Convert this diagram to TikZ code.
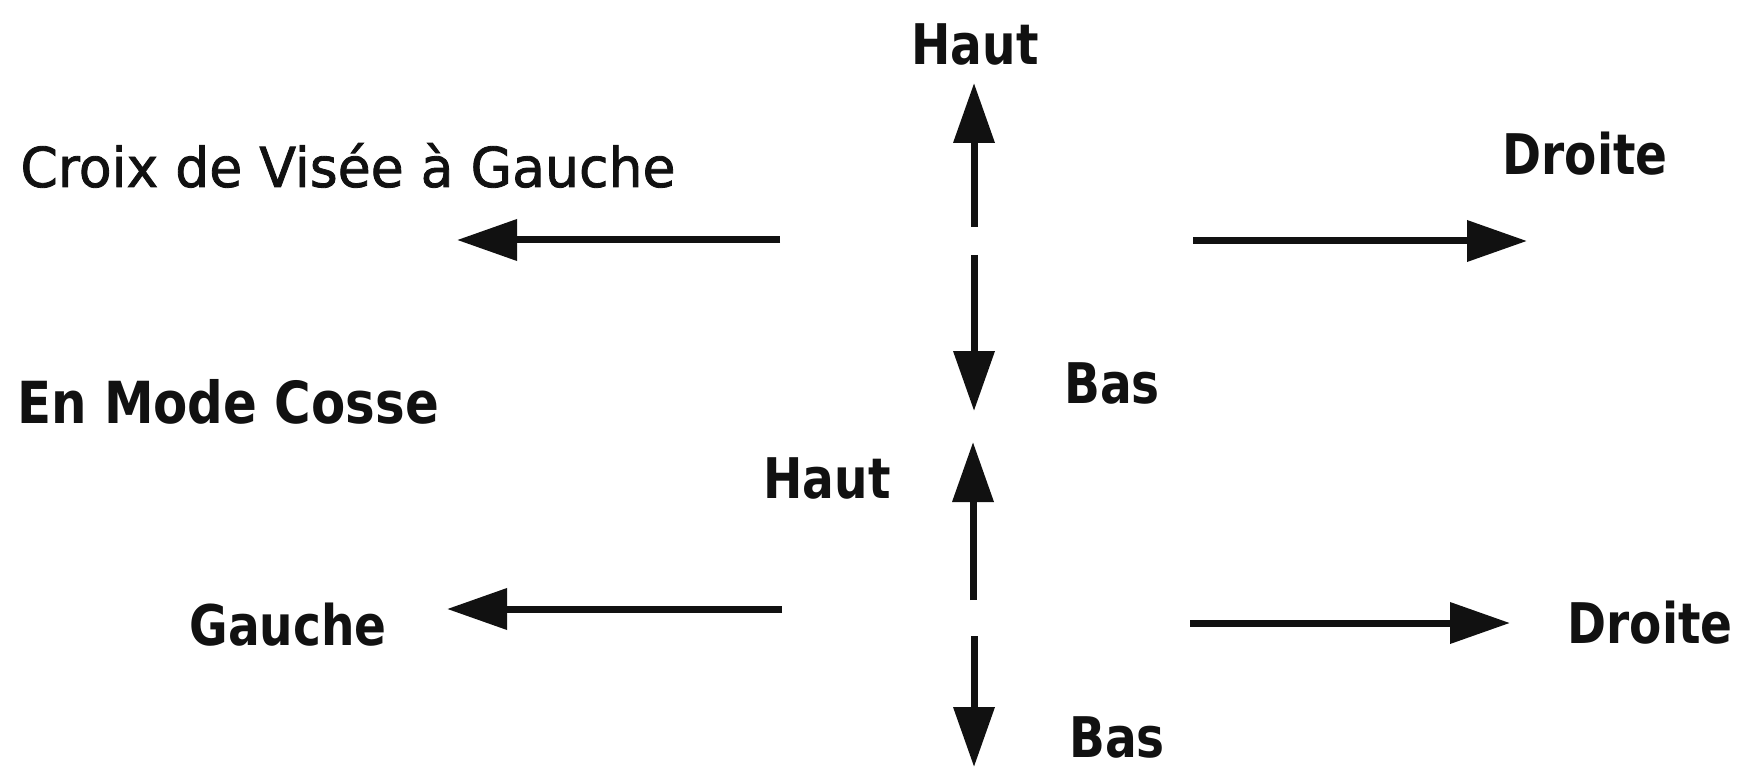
\documentclass[tikz,border=0pt]{standalone}
\usepackage{fontspec}
\usetikzlibrary{arrows.meta}
\newfontfamily\regfont{DejaVu Sans}[FakeStretch=0.975,FakeBold=1.5]
\newfontfamily\labfont{DejaVu Sans}[FakeStretch=0.84]
\newfontfamily\headfont{DejaVu Sans}[FakeStretch=0.86]
\definecolor{ink}{HTML}{111111}
\tikzset{
  lab/.style={anchor=base, inner sep=0pt, text=ink, font=\labfont\bfseries\fontsize{56}{60}\selectfont},
  regtxt/.style={anchor=base, inner sep=0pt, text=ink, font=\regfont\fontsize{55}{60}\selectfont},
  headtxt/.style={anchor=base, inner sep=0pt, text=ink, font=\headfont\bfseries\fontsize{58}{62}\selectfont},
  arr/.style={draw=ink, line width=7pt, -{Triangle[length=60pt,width=40pt]}}
}
\begin{document}
\begin{tikzpicture}[x=1pt,y=-1pt]
\useasboundingbox (0,0) rectangle (1739,767);
% texts
\node[lab] (haut1) at (975,65) {Haut};
\node[lab] (droite1) at (1585,175) {Droite};
\node[regtxt] (croix) at (348,187) {Croix de Visée à Gauche};
\node[lab] (bas1) at (1112,403) {Bas};
\node[headtxt] (mode) at (228,423) {En Mode Cosse};
\node[lab] (haut2) at (827,498) {Haut};
\node[lab] (gauche2) at (288,645) {Gauche};
\node[lab] (droite2) at (1650,643) {Droite};
\node[lab] (bas2) at (1117,757) {Bas};
% arrow end points
\coordinate (uvs1) at (974,227);
\coordinate (uvt1) at (974,83);
\coordinate (dvs1) at (974,255);
\coordinate (dvt1) at (974,411);
\coordinate (lhs1) at (780,240);
\coordinate (lht1) at (457,240);
\coordinate (rhs1) at (1193,241);
\coordinate (rht1) at (1527,241);
\coordinate (uvs2) at (973,600);
\coordinate (uvt2) at (973,442);
\coordinate (dvs2) at (974,636);
\coordinate (dvt2) at (974,767);
\coordinate (lhs2) at (782,609);
\coordinate (lht2) at (447,609);
\coordinate (rhs2) at (1190,623);
\coordinate (rht2) at (1510,623);
% arrows
\draw[arr] (uvs1) -- (uvt1);
\draw[arr] (dvs1) -- (dvt1);
\draw[arr] (lhs1) -- (lht1);
\draw[arr] (rhs1) -- (rht1);
\draw[arr] (uvs2) -- (uvt2);
\draw[arr] (dvs2) -- (dvt2);
\draw[arr] (lhs2) -- (lht2);
\draw[arr] (rhs2) -- (rht2);
\end{tikzpicture}
\end{document}
